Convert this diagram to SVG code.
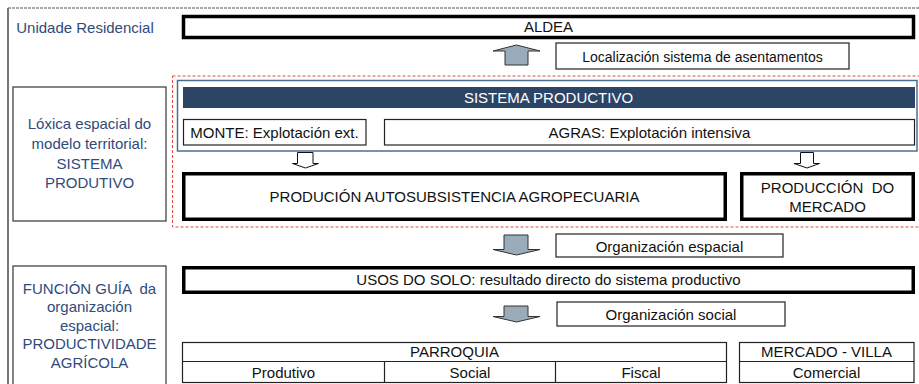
<svg xmlns="http://www.w3.org/2000/svg" width="919" height="384" viewBox="0 0 919 384">
<style>
text{font-family:"Liberation Sans",Arial,sans-serif;font-size:15px;fill:#111;text-anchor:middle}
.lbl{fill:#2f4b7c}
.thick{fill:#fff;stroke:#000;stroke-width:3.5}
.thin{fill:#fff;stroke:#222;stroke-width:1.2}
.side{fill:#fff;stroke:#444;stroke-width:1.3}
.fa{fill:#9aabb9;stroke:#333;stroke-width:1}
.oa{fill:#fff;stroke:#111;stroke-width:1}
</style>
<rect width="919" height="384" fill="#fff"/>
<g id="frame">
<line x1="8" y1="8" x2="919" y2="8" stroke="#555" stroke-width="1" stroke-dasharray="3,1"/>
<line x1="8" y1="8" x2="8" y2="384" stroke="#777" stroke-width="2"/>
</g>
<g id="unidade-residencial"><text class="lbl" x="85" y="33">Unidade Residencial</text></g>
<g id="loxica">
<rect class="side" x="13" y="87" width="153" height="134"/>
<text class="lbl" x="89.5" y="129">Lóxica espacial do</text>
<text class="lbl" x="89.5" y="148.5">modelo territorial:</text>
<text class="lbl" x="89.5" y="168.5">SISTEMA</text>
<text class="lbl" x="89.5" y="188">PRODUTIVO</text>
</g>
<g id="funcion-guia">
<rect class="side" x="13" y="266" width="153" height="125"/>
<text class="lbl" x="89.5" y="294" xml:space="preserve">FUNCIÓN GUÍA  da</text>
<text class="lbl" x="89.5" y="312">organización</text>
<text class="lbl" x="89.5" y="330.5">espacial:</text>
<text class="lbl" x="89.5" y="349">PRODUCTIVIDADE</text>
<text class="lbl" x="89.5" y="368">AGRÍCOLA</text>
</g>
<g id="aldea">
<rect class="thick" x="183.5" y="16.5" width="730" height="21"/>
<text x="548.5" y="32">ALDEA</text>
</g>
<g id="localizacion">
<rect class="thin" x="556" y="43" width="293" height="26"/>
<text x="702.5" y="61.5" style="font-size:14px">Localización sistema de asentamentos</text>
</g>
<g id="sistema-productivo-area">
<rect x="172.5" y="76" width="760" height="151" fill="none" stroke="#e8483c" stroke-width="1" stroke-dasharray="3,2"/>
<rect x="177.5" y="80.5" width="739.5" height="70.5" fill="#fff" stroke="#4a6f95" stroke-width="1.5"/>
</g>
<g id="sistema-productivo">
<rect x="183" y="87" width="732" height="21" fill="#2c4566"/>
<text x="548.5" y="102.5" style="fill:#fff">SISTEMA PRODUCTIVO</text>
</g>
<g id="monte">
<rect class="thin" x="183.5" y="119.5" width="182.5" height="25.5"/>
<text x="274.5" y="138">MONTE: Explotación ext.</text>
</g>
<g id="agras">
<rect class="thin" x="384.5" y="119.5" width="530" height="25.5"/>
<text x="649.5" y="138">AGRAS: Explotación intensiva</text>
</g>
<g id="producion-autosubsistencia">
<rect class="thick" x="183.75" y="173.75" width="541.5" height="45.5"/>
<text x="454.5" y="202">PRODUCIÓN AUTOSUBSISTENCIA AGROPECUARIA</text>
</g>
<g id="produccion-mercado">
<rect class="thick" x="741.75" y="173.75" width="171.5" height="45.5"/>
<text x="827.5" y="192.5" xml:space="preserve">PRODUCCIÓN  DO</text>
<text x="827.5" y="211.5">MERCADO</text>
</g>
<g id="organizacion-espacial">
<rect class="thin" x="556" y="234" width="227" height="23"/>
<text x="669.5" y="252">Organización espacial</text>
</g>
<g id="usos-do-solo">
<rect class="thick" x="183.75" y="267.75" width="729.5" height="24.5"/>
<text x="548.5" y="284.5">USOS DO SOLO: resultado directo do sistema productivo</text>
</g>
<g id="organizacion-social">
<rect class="thin" x="557" y="302" width="228" height="24"/>
<text x="671" y="319.5">Organización social</text>
</g>
<g id="parroquia">
<rect class="thin" x="182.5" y="342.5" width="544" height="40"/>
<line x1="182.5" y1="361.5" x2="726.5" y2="361.5" stroke="#222" stroke-width="1.2"/>
<line x1="384.5" y1="361.5" x2="384.5" y2="382.5" stroke="#222" stroke-width="1.2"/>
<line x1="555.5" y1="361.5" x2="555.5" y2="382.5" stroke="#222" stroke-width="1.2"/>
<text x="454.5" y="357">PARROQUIA</text>
<text x="283.5" y="378">Produtivo</text>
<text x="470" y="378">Social</text>
<text x="641" y="378">Fiscal</text>
</g>
<g id="mercado-villa">
<rect class="thin" x="739.5" y="342.5" width="174.5" height="40"/>
<line x1="739.5" y1="361.5" x2="914" y2="361.5" stroke="#222" stroke-width="1.2"/>
<text x="826.5" y="357">MERCADO - VILLA</text>
<text x="826.5" y="378">Comercial</text>
</g>
<g id="connectors">
<polygon class="fa" points="516.5,45 540,51 528,51 528,65 505,65 505,51 493,51"/>
<polygon class="oa" points="297.5,152.5 313,152.5 313,163.5 318.5,163.5 305.5,168 292.5,163.5 297.5,163.5"/>
<polygon class="oa" points="800.5,152.5 813.5,152.5 813.5,163.5 819.5,163.5 807,168 794,163.5 800.5,163.5"/>
<polygon class="fa" points="504,235 528,235 528,249.5 540,249.5 516.5,255 493,249.5 504,249.5"/>
<polygon class="fa" points="504,306 528,306 528,316.5 540,316.5 516.5,322 493,316.5 504,316.5"/>
</g>
</svg>
